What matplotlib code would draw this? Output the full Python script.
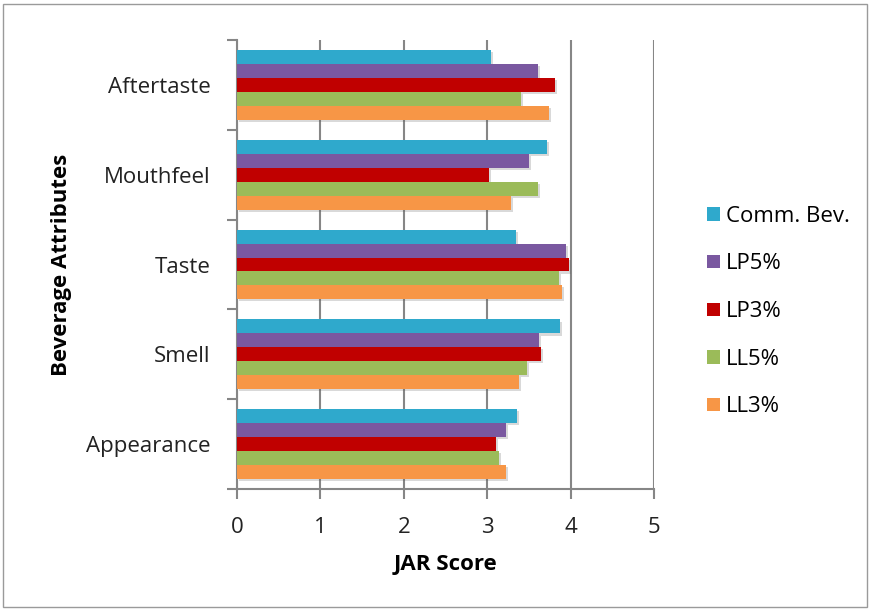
import numpy as np
import matplotlib.pyplot as plt
import matplotlib.patheffects as pe
from matplotlib.patches import Rectangle

plt.rcParams['font.family'] = ['Open Sans', 'DejaVu Sans']

attributes = ['Appearance', 'Smell', 'Taste', 'Mouthfeel', 'Aftertaste']
series = ['Comm. Bev.', 'LP5%', 'LP3%', 'LL5%', 'LL3%']
colors = ['#2FA9CC', '#7A58A0', '#C00000', '#9BBB59', '#F79646']

comm_bev = [3.36, 3.87, 3.34, 3.72, 3.05]
lp5 = [3.23, 3.62, 3.95, 3.50, 3.61]
lp3 = [3.11, 3.64, 3.98, 3.02, 3.81]
ll5 = [3.14, 3.48, 3.86, 3.61, 3.40]
ll3 = [3.22, 3.38, 3.90, 3.28, 3.74]
values = [comm_bev, lp5, lp3, ll5, ll3]

fs = 16

fig = plt.figure(figsize=(8.7, 6.11), dpi=100)
fig.patches.append(Rectangle((0.004, 0.006), 0.992, 0.988, transform=fig.transFigure,
                             fill=False, edgecolor='#9a9a9a', linewidth=1))
ax = fig.add_axes([0.2724, 0.1997, 0.4793, 0.7348])

y = np.arange(len(attributes))
h = 0.155
shadow = [pe.SimplePatchShadow(offset=(1.5, -1.5), alpha=0.22, shadow_rgbFace='#555555'),
          pe.Normal()]
for i, (name, vals, c) in enumerate(zip(series, values, colors)):
    # first series sits on top of each group
    offs = (2 - i) * h
    ax.barh(y + offs, vals, height=h, color=c, label=name, zorder=3,
            path_effects=shadow)

ax.set_xlim(0, 5)
ax.set_ylim(-0.5, len(attributes) - 0.5)
ax.set_xticks(range(6))
ax.set_yticks(y)
ax.set_yticklabels(attributes)
ax.set_yticks(np.arange(-0.5, len(attributes), 1.0), minor=True)
ax.tick_params(axis='y', which='major', length=0, pad=19, labelsize=fs, labelcolor='#222222')
ax.tick_params(axis='y', which='minor', length=7, width=1.5, color='#868686', direction='out')
ax.tick_params(axis='x', length=7, width=1.5, color='#868686', labelsize=fs,
               labelcolor='#222222', pad=13)

ax.grid(True, axis='x', color='#868686', linewidth=1.5, zorder=0)
for s in ['top', 'right']:
    ax.spines[s].set_visible(False)
for s in ['left', 'bottom']:
    ax.spines[s].set_color('#868686')
    ax.spines[s].set_linewidth(1.5)

ax.set_xlabel('JAR Score', fontsize=fs, fontweight='bold', labelpad=12)
ax.set_ylabel('Beverage Attributes', fontsize=fs, fontweight='bold', labelpad=10)

leg = ax.legend(loc='center left', bbox_to_anchor=(1.08, 0.395), frameon=False, fontsize=fs,
                handlelength=0.55, handleheight=0.55, handletextpad=0.3, labelspacing=1.2)
for p in leg.get_patches():
    p.set_path_effects([])

fig.savefig('out.png', dpi=100)
